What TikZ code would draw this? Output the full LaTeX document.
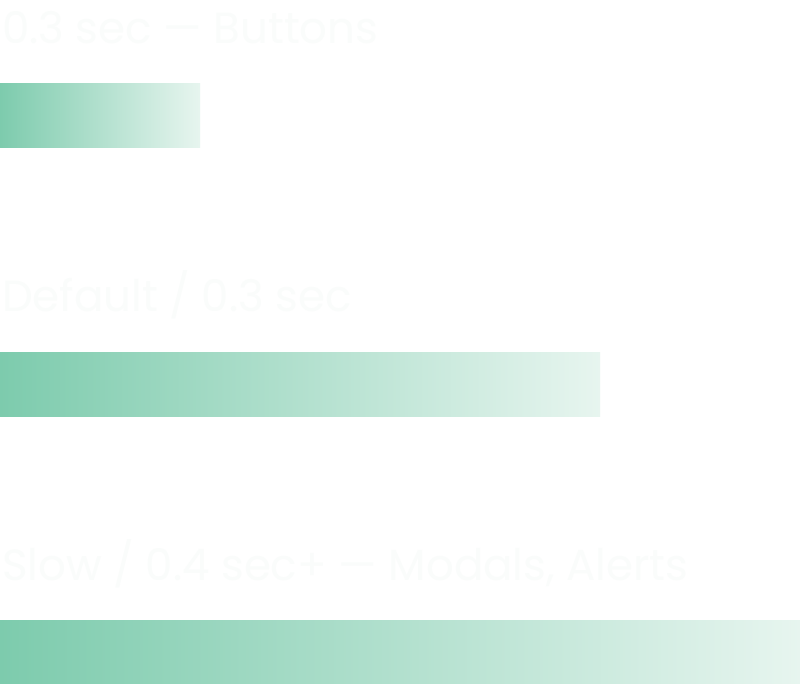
\documentclass[tikz,border=0pt]{standalone}
\usepackage{fontspec}
\setmainfont{Poppins}
\usepackage{xcolor}
\definecolor{mint}{RGB}{125,203,173}
\definecolor{mintpale}{RGB}{231,245,239}
\definecolor{ghost}{RGB}{250,252,251}

\begin{document}
\begin{tikzpicture}[x=1pt, y=-1pt,
  lbl/.style={anchor=base west, inner sep=0pt, text=ghost, font=\fontsize{43.5}{44}\selectfont},
  bar/.style={left color=mint, right color=mintpale, draw=none}]
\useasboundingbox[fill=white] (0,0) rectangle (800,684);
% Fast
\node[lbl] (fastlbl) at (2,44) {0.3 sec — Buttons};
\shade[bar] (0,84) rectangle (200,148);
% Default
\node[lbl] (deflbl) at (2,312) {Default / 0.3 sec};
\shade[bar] (0,352) rectangle (600,416);
% Slow
\node[lbl] (slowlbl) at (2,580) {Slow / 0.4 sec+ — Modals, Alerts};
\shade[bar] (0,620) rectangle (800,684);
\end{tikzpicture}
\end{document}
